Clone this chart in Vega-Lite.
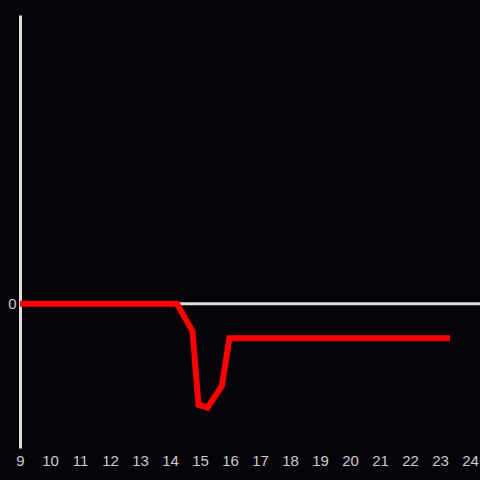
{
  "$schema": "https://vega.github.io/schema/vega-lite/v6.json",
  "autosize": "none",
  "width": 460,
  "height": 433,
  "padding": {"left": 20, "top": 15, "right": 0, "bottom": 32},
  "background": "#050308",
  "config": {"view": {"stroke": null}},
  "datasets": {
    "series": [
      {"hour": 9.0, "value": 0},
      {"hour": 14.23, "value": 0},
      {"hour": 14.75, "value": -0.19},
      {"hour": 14.95, "value": -0.7},
      {"hour": 15.25, "value": -0.72},
      {"hour": 15.73, "value": -0.57},
      {"hour": 15.98, "value": -0.24},
      {"hour": 23.33, "value": -0.24}
    ],
    "zero": [{"value": 0}]
  },
  "layer": [
    {
      "data": {"name": "zero"},
      "mark": {"type": "rule", "color": "#dddddd", "strokeWidth": 3},
      "encoding": {"y": {"field": "value", "type": "quantitative", "scale": {"domain": [-1, 2]}}}
    },
    {
      "data": {"name": "series"},
      "mark": {"type": "line", "color": "#ff0000", "strokeWidth": 6, "strokeJoin": "miter", "clip": false},
      "encoding": {
        "x": {
          "field": "hour", "type": "quantitative",
          "scale": {"domain": [9, 24.333], "nice": false, "zero": false},
          "axis": {"title": null, "values": [9,10,11,12,13,14,15,16,17,18,19,20,21,22,23,24], "format": "d", "domain": false, "ticks": false, "grid": false, "labelColor": "#cccccc", "labelFontSize": 15, "labelFont": "Liberation Sans", "labelPadding": 5, "labelFlush": false, "labelOverlap": false}
        },
        "y": {
          "field": "value", "type": "quantitative",
          "scale": {"domain": [-1, 2], "nice": false, "zero": false},
          "axis": {"title": null, "values": [0], "format": "d", "domain": true, "domainColor": "#dddddd", "domainWidth": 3, "ticks": false, "grid": false, "labelColor": "#cccccc", "labelFontSize": 15, "labelFont": "Liberation Sans", "labelPadding": 4}
        }
      }
    }
  ]
}
